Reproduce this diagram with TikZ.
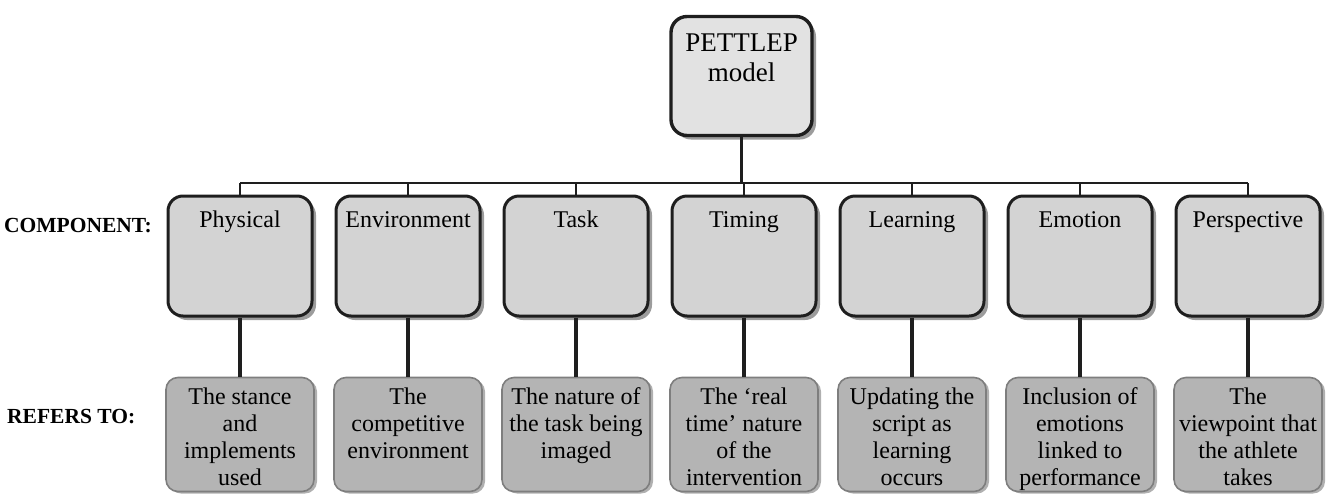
\documentclass[tikz,border=0pt]{standalone}
\usepackage{fontspec}
\setmainfont{Liberation Serif}
\usetikzlibrary{shadows}
\definecolor{topfill}{HTML}{E2E2E2}
\definecolor{compfill}{HTML}{D3D3D3}
\definecolor{reffill}{HTML}{B4B4B4}
\definecolor{refdraw}{HTML}{7E7E7E}
\definecolor{shade}{HTML}{9C9C9C}
\definecolor{ink}{HTML}{1E1E1E}
\newcommand{\ctxt}[1]{\parbox[c][110pt][t]{144pt}{\centering\fontsize{24}{27}\selectfont\rule{0pt}{26pt}#1}}
\newcommand{\rtxt}[1]{\parbox[c][105pt][t]{148pt}{\centering\fontsize{24}{27}\selectfont\rule{0pt}{22pt}#1}}
\newcommand{\ttxt}[1]{\parbox[c][110pt][t]{141pt}{\centering\fontsize{27}{30}\selectfont\rule{0pt}{30.5pt}#1}}
\tikzset{
  topbox/.style={draw=ink, line width=3.4pt, fill=topfill, rounded corners=16pt,
    minimum width=140pt, minimum height=119pt, inner sep=0pt,
    drop shadow={shadow xshift=4pt, shadow yshift=-4pt, fill=shade, opacity=1}},
  compbox/.style={draw=ink, line width=3pt, fill=compfill, rounded corners=15pt,
    minimum width=144pt, minimum height=120pt, inner sep=0pt,
    drop shadow={shadow xshift=4pt, shadow yshift=-4pt, fill=shade, opacity=1}},
  refbox/.style={draw=refdraw, line width=1.6pt, fill=reffill, rounded corners=12pt,
    minimum width=146pt, minimum height=114pt, inner sep=0pt,
    drop shadow={shadow xshift=3pt, shadow yshift=-2pt, fill=shade, opacity=0.8}},
  bus/.style={draw=ink, line width=2.8pt},
  link/.style={draw=ink, line width=3.4pt},
  rowlabel/.style={anchor=base west, inner sep=0pt, font=\fontsize{21.5}{24}\selectfont\bfseries}
}
\begin{document}
\begin{tikzpicture}[x=1pt,y=-1pt]
\useasboundingbox (0,0) rectangle (1327,493);

\node[topbox] (top) at (741.5,76) {\ttxt{PETTLEP\\model}};

\node[compbox] (c1) at (240,256)  {\ctxt{Physical}};
\node[compbox] (c2) at (408,256)  {\ctxt{Environment}};
\node[compbox] (c3) at (576,256)  {\ctxt{Task}};
\node[compbox] (c4) at (744,256)  {\ctxt{Timing}};
\node[compbox] (c5) at (912,256)  {\ctxt{Learning}};
\node[compbox] (c6) at (1080,256) {\ctxt{Emotion}};
\node[compbox] (c7) at (1248,256) {\ctxt{Perspective}};

\node[refbox] (r1) at (240,434.5)  {\rtxt{The stance\\and\\implements\\used}};
\node[refbox] (r2) at (408,434.5)  {\rtxt{The\\competitive\\environment}};
\node[refbox] (r3) at (576,434.5)  {\rtxt{The nature of\\the task being\\imaged}};
\node[refbox] (r4) at (744,434.5)  {\rtxt{The ‘real\\time’ nature\\of the\\intervention}};
\node[refbox] (r5) at (912,434.5)  {\rtxt{Updating the\\script as\\learning\\occurs}};
\node[refbox] (r6) at (1080,434.5) {\rtxt{Inclusion of\\emotions\\linked to\\performance}};
\node[refbox] (r7) at (1248,434.5) {\rtxt{The\\viewpoint that\\the athlete\\takes}};

\node[rowlabel] (lc) at (4,232) {COMPONENT:};
\node[rowlabel] (lr) at (7,423) {REFERS TO:};

\coordinate (busL) at (240,183);
\coordinate (busR) at (1248,183);
\draw[bus] (busL) -- (busR);
\draw[bus] (top.south) -- (top.south |- busL);
\foreach \i in {1,...,7} {
  \draw[bus] (c\i.north) -- (c\i.north |- busL);
  \draw[link] (c\i.south) -- (r\i.north);
}
\end{tikzpicture}
\end{document}
